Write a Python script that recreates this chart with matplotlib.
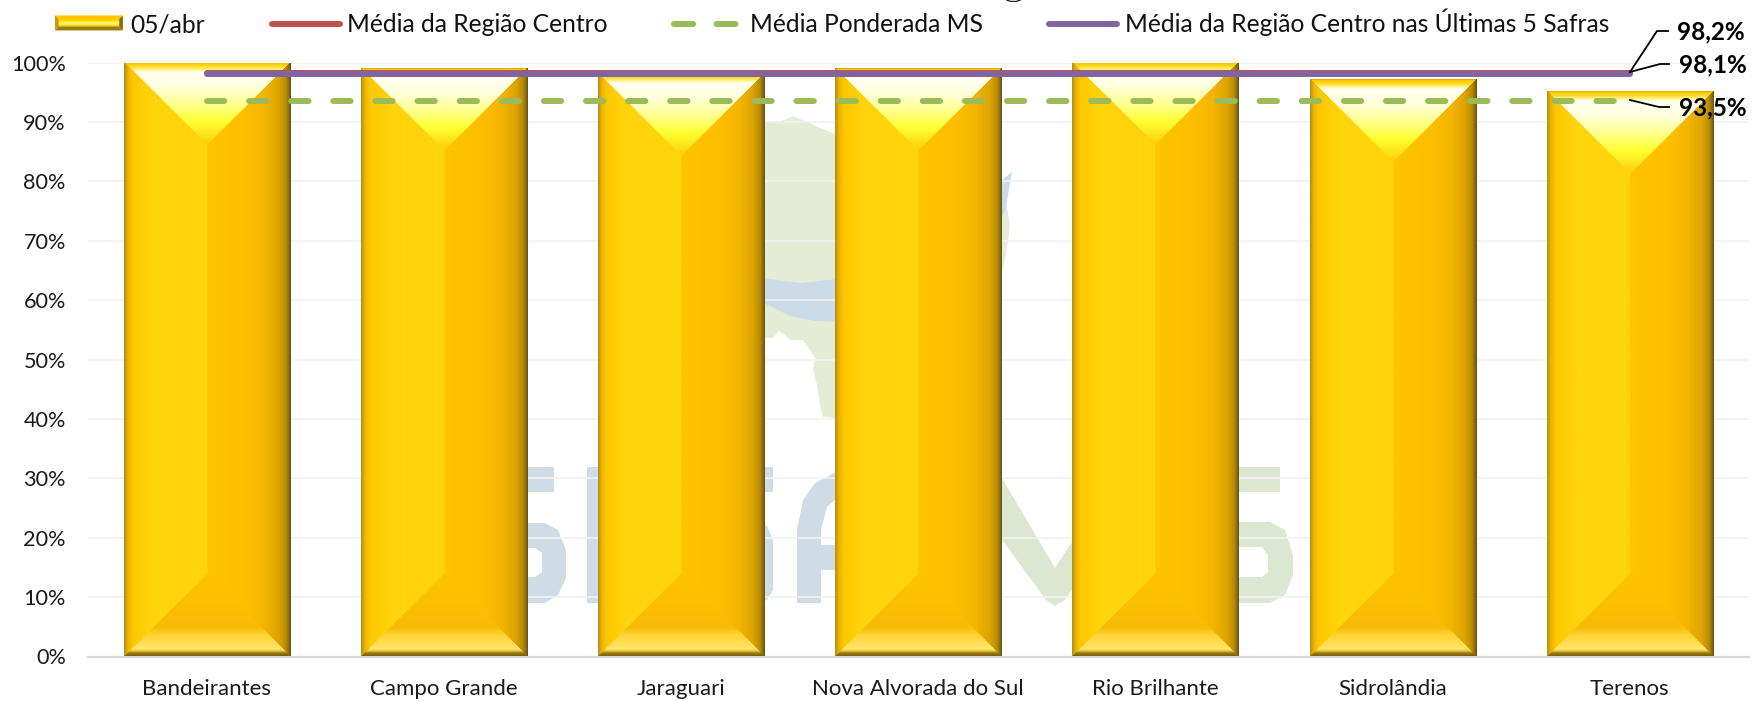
import numpy as np
import matplotlib
matplotlib.use("Agg")
import matplotlib.pyplot as plt
from matplotlib.patches import Polygon, Rectangle
from matplotlib.lines import Line2D
from matplotlib.legend_handler import HandlerBase
from matplotlib.transforms import Affine2D
from matplotlib.ticker import FuncFormatter

# ---- data ----
municipios = ["Bandeirantes", "Campo Grande", "Jaraguari", "Nova Alvorada do Sul",
              "Rio Brilhante", "Sidrolândia", "Terenos"]
colheita = [100, 99, 98, 99, 100, 97, 95]
media_regiao = 98.2
media_ms = 93.5
media_5_safras = 98.1
rotulos = ["98,2%", "98,1%", "93,5%"]
serie_nomes = ["05/abr", "Média da Região Centro", "Média Ponderada MS",
               "Média da Região Centro nas Últimas 5 Safras"]

plt.rcParams["font.family"] = ["Lato", "DejaVu Sans"]
W, H = 1753, 701
fig = plt.figure(figsize=(W / 100, H / 100), dpi=100, facecolor="white")
L, R, T, B = 88, 1748.5, 62.6, 656.5
ax = fig.add_axes([L / W, 1 - B / H, (R - L) / W, (B - T) / H])
ax.set_facecolor("none")
px = Affine2D().scale(1, -1).translate(0, H)   # reference pixel coordinates


def rgb(h):
    return np.array([int(h[i:i + 2], 16) for i in (0, 2, 4)], float)


def ramp(t, stops, cols):
    c = np.array([rgb(x) for x in cols])
    return np.stack([np.interp(t, stops, c[:, i]) for i in range(3)], axis=-1)


def bevel_image(w, h):
    """RGB picture of a bevelled bar, w x h pixels."""
    yy, xx = np.mgrid[0:h, 0:w] + 0.5
    b = w / 2
    dl, dr, dt, db = xx, w - xx, yy, h - yy
    img = np.zeros((h, w, 3))
    left = ramp(xx, [0, 1, 4, 9, 30, 83], ["A08A48", "C09808", "EDB400", "FFC800", "FFD40C", "FFD40C"])
    right = ramp(dr, [0, 2, 5, 12, 25, 45, 83],
                 ["5E4C1C", "8A6C10", "B98C04", "DDA400", "F2B400", "FFBE00", "FFC400"])
    top = ramp(dt, [0, 1.5, 4, 7, 10, 24, 42, 60, 72, 83],
               ["D8A000", "FFC800", "FFD820", "FFF070", "FFFFF0", "FFFFE0", "FFFF90", "FFFF30", "FFE41C", "FFCC00"])
    bot = ramp(db, [0, 3, 5, 7, 12, 22, 28, 45, 83],
               ["7A5E08", "9A7A10", "E0C040", "FFE566", "FFDF58", "FFD030", "F8BC08", "FBBE04", "FFC400"])
    img[:] = np.where((xx < b)[..., None], left, right)
    m_top = (dt < dl) & (dt < dr)
    m_bot = (db < dl) & (db < dr)
    img[m_top] = top[m_top]
    img[m_bot] = bot[m_bot]
    return img / 255


# ---- background watermark (decorative picture behind the plot) ----
blue, green, mapa, faixa = "#CFDCE6", "#DCE7D2", "#E5ECD6", "#CBDCE8"
shapes = [
    (mapa, [(745, 122), (782, 121), (793, 116), (800, 119), (812, 124), (820, 128), (838, 135), (900, 150),
            (1004, 190), (1010, 225), (1006, 255), (1000, 280), (880, 400), (838, 418), (823, 417), (820, 405),
            (817, 385), (813, 370), (815, 358), (808, 347), (803, 340), (790, 340), (785, 335), (779, 331),
            (773, 338), (745, 338)]),
    (faixa, [(745, 275), (770, 279), (800, 283), (838, 279), (900, 262), (1012, 172), (1005, 212), (950, 290),
             (880, 318), (838, 322), (815, 321), (790, 316), (770, 306), (745, 295)]),
    (blue, [(515, 467), (554, 467), (554, 492), (515, 492)]),
    (blue, [(515, 523), (545, 523), (558, 530), (566, 550), (566, 578), (558, 595), (545, 603), (515, 603)]),
    ("#FFFFFF", [(515, 548), (535, 548), (542, 553), (542, 572), (535, 577), (515, 577)]),
    (blue, [(587, 467), (612, 467), (612, 603), (587, 603)]),
    (blue, [(755, 467), (773, 467), (773, 492), (755, 492)]),
    (blue, [(755, 523), (767, 526), (773, 540), (773, 590), (767, 600), (755, 603)]),
    (blue, [(797, 603), (797, 530), (803, 500), (815, 483), (840, 470), (840, 495), (827, 507), (821, 530),
            (821, 545), (840, 545), (840, 570), (821, 570), (821, 603)]),
    (green, [(995, 470), (1002, 478), (1055, 568), (1080, 530), (1080, 578), (1065, 600), (1055, 606), (1046, 600),
             (995, 530)]),
    (green, [(1235, 467), (1280, 467), (1280, 492), (1235, 492)]),
    (green, [(1235, 522), (1270, 522), (1285, 530), (1293, 555), (1293, 575), (1285, 595), (1270, 603), (1235, 603)]),
    ("#FFFFFF", [(1235, 547), (1262, 547), (1268, 555), (1268, 572), (1262, 577), (1235, 577)]),
]
for col, pts in shapes:
    fig.add_artist(Polygon(pts, closed=True, transform=px, facecolor=col, edgecolor="none", zorder=-5))

# ---- axes ----
x = np.arange(len(municipios))
larg = 0.7
ax.bar(x, colheita, width=larg, color="#FFC800", zorder=2)
px_per_x = (R - L) / 7
px_per_y = (B - T) / 100
for xi, v in zip(x, colheita):
    img = bevel_image(int(round(larg * px_per_x)), int(round(v * px_per_y)))
    ax.imshow(img, extent=[xi - larg / 2, xi + larg / 2, 0, v], aspect="auto", zorder=3,
              interpolation="bilinear", origin="upper")

x_lin = [x[0], x[-1]]
lw = 4.3
dash = (0, (2.9, 4.15))
l_red, = ax.plot(x_lin, [media_regiao] * 2, color="#C0504D", lw=lw, solid_capstyle="round", zorder=4)
l_green, = ax.plot(x_lin, [media_ms] * 2, color="#9BBB59", lw=lw, dash_capstyle="round",
                   linestyle=dash, zorder=4)
l_purple, = ax.plot(x_lin, [media_5_safras] * 2, color="#8064A2", lw=lw, solid_capstyle="round", zorder=5)

ax.set_xlim(-0.5, 6.5)
ax.set_ylim(0, 100)
ax.set_yticks(np.arange(0, 101, 10))
ax.yaxis.set_major_formatter(FuncFormatter(lambda v, _: f"{v:.0f}%"))
ax.set_xticks(x)
ax.set_xticklabels(municipios)
ax.tick_params(axis="both", length=0, labelcolor="#1A1A1A")
ax.tick_params(axis="x", pad=16.5, labelsize=16)
ax.tick_params(axis="y", pad=16, labelsize=15.6)
ax.grid(axis="y", color="#F2F2F2", lw=1.2, zorder=1)
ax.set_axisbelow(True)
for s in ("top", "right", "left"):
    ax.spines[s].set_visible(False)
ax.spines["bottom"].set_color("#D9D9D9")
ax.spines["bottom"].set_linewidth(1.6)
ax.spines["bottom"].set_zorder(2.5)

# ---- callouts ----
leaders = [[(1630, 72), (1657, 31), (1668, 31)],
           [(1630, 72), (1660, 64), (1669, 64)],
           [(1630, 100), (1659, 107), (1669, 107)]]
lab_xy = [(1711, 32), (1713, 65), (1713, 108)]
for pts, pos, txt in zip(leaders, lab_xy, rotulos):
    xs, ys = zip(*pts)
    fig.add_artist(Line2D(xs, ys, transform=px, color="black", lw=1.3, zorder=6))
    fig.text(pos[0] / W, 1 - pos[1] / H, txt, ha="center", va="center", fontsize=17.5, fontweight="bold",
             color="black", zorder=7)


# ---- legend ----
class BevelHandler(HandlerBase):
    def create_artists(self, legend, orig, xd, yd, width, height, fontsize, trans):
        h = 10.8
        y0 = height / 2 - yd - h / 2 + 0.5
        x0 = -xd
        out = []
        cols = ["#FFC800", "#FFD400", "#FFE420", "#FFF460", "#FFEC48", "#F0D030", "#D8B428"]
        e = 2.6
        n = len(cols)
        for i, c in enumerate(cols):
            out.append(Rectangle((x0, y0 + h - e - (i + 1) * (h - 2 * e) / n), width, (h - 2 * e) / n,
                                 facecolor=c, edgecolor="none", transform=trans))
        out.append(Polygon([(x0, y0 + h), (x0 + width, y0 + h), (x0 + width - e, y0 + h - e), (x0 + e, y0 + h - e)],
                           facecolor="#FFC400", edgecolor="none", transform=trans))
        out.append(Polygon([(x0, y0), (x0 + width, y0), (x0 + width - e, y0 + e), (x0 + e, y0 + e)],
                           facecolor="#9A7C10", edgecolor="none", transform=trans))
        out.append(Polygon([(x0, y0), (x0, y0 + h), (x0 + e, y0 + h - e), (x0 + e, y0 + e)],
                           facecolor="#C49A08", edgecolor="none", transform=trans))
        out.append(Polygon([(x0 + width, y0), (x0 + width, y0 + h), (x0 + width - e, y0 + h - e), (x0 + width - e, y0 + e)],
                           facecolor="#8A6C10", edgecolor="none", transform=trans))
        return out


swatch = Rectangle((0, 0), 1, 1)
leg_green = Line2D([], [], color="#9BBB59", lw=lw, dash_capstyle="round", linestyle=(0, (3.2, 3.9)))
leg_red = Line2D([], [], color="#C0504D", lw=lw, solid_capstyle="round")
leg_purple = Line2D([], [], color="#8064A2", lw=lw, solid_capstyle="round")
leg = fig.legend([swatch, leg_red, leg_green, leg_purple], serie_nomes, ncol=4, frameon=False,
                 fontsize=17.7, loc="center left", bbox_to_anchor=(55 / W, 1 - 22.5 / H), borderaxespad=0, borderpad=0,
                 handlelength=2.76, handletextpad=0.3, columnspacing=2.72,
                 handler_map={swatch: BevelHandler()}, labelcolor="#111111")
leg.set_zorder(8)

# clipped title descender at the very top edge of the picture
fig.add_artist(Line2D([1007, 1011, 1016, 1020], [0.3, 1.4, 1.4, 0.3], transform=px, color="#222222", lw=0.9))

fig.savefig("out.png", dpi=100, facecolor="white")
